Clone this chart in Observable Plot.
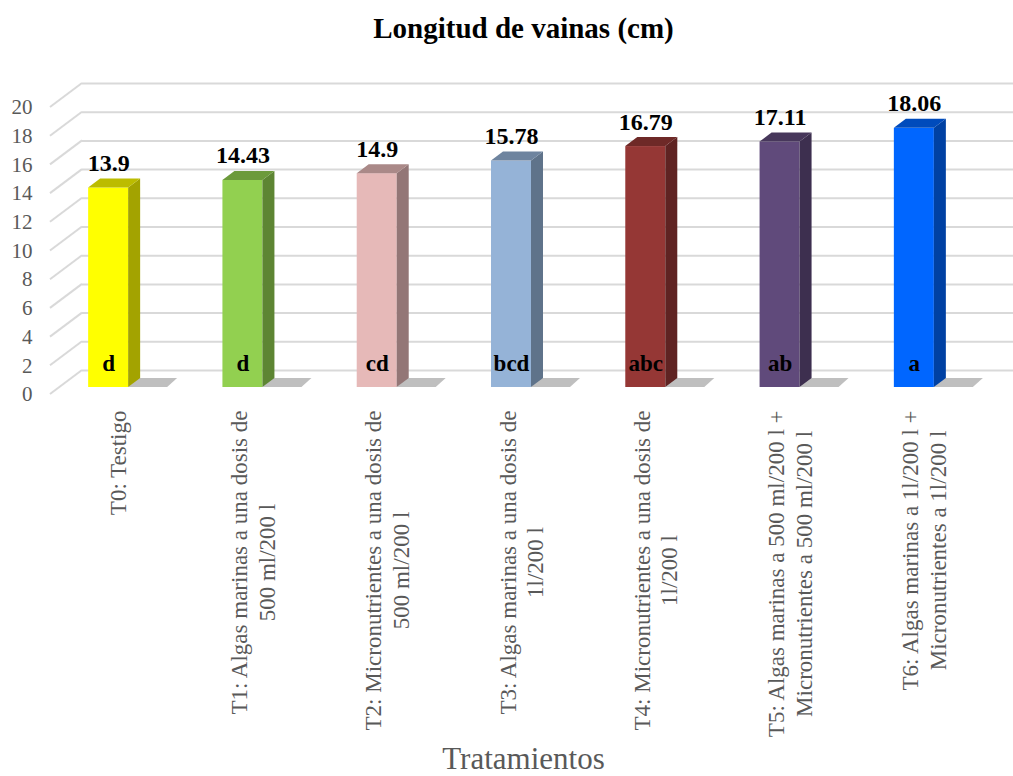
<!DOCTYPE html>
<html>
<head>
<meta charset="utf-8">
<script src="https://cdn.jsdelivr.net/npm/d3@7"></script>
<script src="https://cdn.jsdelivr.net/npm/@observablehq/plot@0.6"></script>
<style>
html,body{margin:0;padding:0;background:#fff;overflow:hidden;}
#title{width:1013px;height:60px;box-sizing:border-box;padding:14px 0 0 34px;text-align:center;font:bold 29px/28px "Liberation Serif","Times New Roman",serif;color:#000;}
#chart svg{display:block;}
</style>
</head>
<body>
<div id="title">Longitud de vainas (cm)</div>
<div id="chart"></div>
<script>
const categories = [
  "T0: Testigo",
  "T1: Algas marinas a una dosis de\n500 ml/200 l",
  "T2: Micronutrientes a una dosis de\n500 ml/200 l",
  "T3: Algas marinas a una dosis de\n1l/200 l",
  "T4: Micronutrientes a una dosis de\n1l/200 l",
  "T5: Algas marinas a 500 ml/200 l +\nMicronutrientes a 500 ml/200 l",
  "T6: Algas marinas a 1l/200 l +\nMicronutrientes a 1l/200 l"
];
const values = [13.9, 14.43, 14.9, 15.78, 16.79, 17.11, 18.06];
const letters = ["d", "d", "cd", "bcd", "abc", "ab", "a"];
const yTicks = [0, 2, 4, 6, 8, 10, 12, 14, 16, 18, 20];
const palette = ["#FFFF00", "#92D050", "#E6B9B8", "#95B3D7", "#953735", "#604A7B", "#0066FF"];

const FONT = '"Liberation Serif", "Times New Roman", serif';
const GRID = "#D9D9D9";
const rows = categories.map((c, i) => ({i, category: c, value: values[i], letter: letters[i]}));

// 3D geometry (pixels)
const WALL_X0 = 9, WALL_DX = 32, WALL_DY = -24;
const BAR_HALF = 20, BAR_DX = 12, BAR_DY = -9, BAR_Z = -7;
const SHADOW_W = 39, SHADOW_DX = 10;

function group(draw) {
  return (index, scales, vals, dims) => {
    const g = d3.create("svg:g");
    draw(g, index, scales, dims);
    return g.node();
  };
}

const gridDiagonals = Plot.dot(yTicks, {
  x: () => -0.5, y: d => d,
  render: group((g, index, scales, dims) => {
    for (const i of index) {
      const y = scales.y(yTicks[i]);
      const x = dims.marginLeft + WALL_X0;
      g.append("line")
        .attr("x1", x).attr("y1", y)
        .attr("x2", x + WALL_DX).attr("y2", y + WALL_DY)
        .attr("stroke", GRID).attr("stroke-width", 2);
    }
  })
});

const gridBack = Plot.ruleY(yTicks, {dx: WALL_X0 + WALL_DX, dy: WALL_DY, stroke: GRID, strokeWidth: 2});

const bars = Plot.dot(rows, {
  x: "i", y: "value",
  render: group((g, index, scales) => {
    const y0 = scales.y(0) + BAR_Z;
    for (const i of index) {
      const d = rows[i];
      const cx = scales.x(d.i), L = cx - BAR_HALF, R = cx + BAR_HALF;
      const yt = scales.y(d.value) + BAR_Z;
      const c = palette[i];
      const side = d3.rgb(c).darker(1.25).formatHex();
      const top = d3.rgb(c).darker(0.85).formatHex();
      g.append("polygon")
        .attr("points", [[R, y0], [R + SHADOW_W, y0], [R + SHADOW_W + SHADOW_DX, y0 + BAR_DY], [R + SHADOW_DX, y0 + BAR_DY]].join(" "))
        .attr("fill", "#BFBFBF");
      g.append("rect").attr("x", L).attr("y", yt).attr("width", R - L).attr("height", y0 - yt).attr("fill", c);
      g.append("polygon")
        .attr("points", [[R, y0], [R + BAR_DX, y0 + BAR_DY], [R + BAR_DX, yt + BAR_DY], [R, yt]].join(" "))
        .attr("fill", side);
      g.append("polygon")
        .attr("points", [[L, yt], [L + BAR_DX, yt + BAR_DY], [R + BAR_DX, yt + BAR_DY], [R, yt]].join(" "))
        .attr("fill", top);
    }
  })
});

const svg = Plot.plot({
  width: 1013,
  height: 716,
  marginTop: 47,
  marginBottom: 382,
  marginLeft: 41,
  marginRight: 32,
  style: {fontFamily: FONT, background: "white", overflow: "visible"},
  x: {type: "linear", domain: [-0.5, 6.5], axis: null},
  y: {domain: [0, 20], axis: null},
  marks: [
    gridDiagonals,
    gridBack,
    bars,
    Plot.text(yTicks, {x: () => -0.5, y: d => d, text: d => String(d), textAnchor: "end", dx: -9,
      fontSize: 21, fill: "#595959", fontFamily: FONT}),
    Plot.text(rows, {x: "i", y: "value", text: d => String(d.value), lineAnchor: "bottom", dy: -24,
      fontSize: 24, fontWeight: "bold", fill: "#000", fontFamily: FONT}),
    Plot.text(rows, {x: "i", y: () => 0, text: "letter", lineAnchor: "bottom", dy: -24,
      fontSize: 23, fontWeight: "bold", fill: "#000", fontFamily: FONT}),
    Plot.text(rows, {x: "i", text: "category", frameAnchor: "bottom", rotate: -90, textAnchor: "middle",
      lineAnchor: "middle", lineHeight: 1.2, dx: 9, fontSize: 23, fill: "#595959", fontFamily: FONT}),
    Plot.text(["Tratamientos"], {frameAnchor: "bottom", dx: 12, dy: 374, lineAnchor: "bottom",
      fontSize: 31, fill: "#595959", fontFamily: FONT})
  ]
});

document.getElementById("chart").append(svg);

// top-align the rotated category labels just below the floor
const flat = categories.map(c => c.replace("\n", ""));
svg.querySelectorAll("text").forEach(t => {
  if (!flat.includes(t.textContent)) return;
  const w = t.getBBox().width;
  t.setAttribute("transform", `translate(0,${16 + w / 2}) ` + (t.getAttribute("transform") || ""));
});
</script>
</body>
</html>
